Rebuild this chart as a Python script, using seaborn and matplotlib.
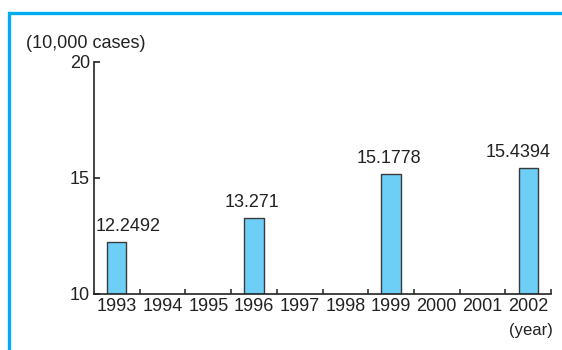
import matplotlib
matplotlib.use("Agg")
import matplotlib.pyplot as plt
import seaborn as sns
import pandas as pd
from matplotlib.lines import Line2D

years = ["1993", "1994", "1995", "1996", "1997", "1998", "1999", "2000", "2001", "2002"]
cases = [12.2492, None, None, 13.271, None, None, 15.1778, None, None, 15.4394]
value_labels = ["12.2492", "", "", "13.271", "", "", "15.1778", "", "", "15.4394"]
y_ticks = [10, 15, 20]

sns.set_style("white")
plt.rcParams["font.family"] = ["Liberation Sans", "DejaVu Sans"]
plt.rcParams["font.size"] = 13

BAR = "#6dcff6"
EDGE = "#3a3a3a"
FRAME = "#00aeef"
INK = "#222222"
FS = 13

df = pd.DataFrame({"year": years, "cases": [v if v is not None else float("nan") for v in cases]})

fig = plt.figure(figsize=(5.62, 3.5), dpi=100)
ax = fig.add_axes([94 / 562, 1 - 294 / 350, (551 - 94) / 562, (294 - 62) / 350])

sns.barplot(data=df, x="year", y="cases", order=years, color=BAR, width=0.42,
            edgecolor=EDGE, linewidth=1.0, saturation=1, ax=ax)

# bars start from the axis floor at 10
for patch in ax.patches:
    h = patch.get_height()
    if h == h:
        patch.set_y(10)
        patch.set_height(h - 10)

ax.set_ylim(10, 20)
ax.set_xlim(-0.5, len(years) - 0.5)
ax.set_yticks(y_ticks)
ax.set_yticklabels([str(t) for t in y_ticks], fontsize=FS, color=INK)
ax.set_xticks(range(len(years)))
ax.set_xticklabels(years, fontsize=FS, color=INK)
ax.tick_params(axis="x", length=0, pad=3)
ax.tick_params(axis="y", left=True, direction="in", length=4, width=1.2, color=INK, pad=3)
ax.set_xlabel("")
ax.set_ylabel("")

for s in ["top", "right"]:
    ax.spines[s].set_visible(False)
for s in ["left", "bottom"]:
    ax.spines[s].set_color(INK)
    ax.spines[s].set_linewidth(1.2)

# category boundary ticks along the x axis
for b in [i + 0.5 for i in range(len(years))]:
    ax.plot([b, b], [10, 10.2], color=INK, lw=1.1, clip_on=False, solid_capstyle="butt")

# value labels above bars
last = max(i for i, v in enumerate(cases) if v is not None)
first = min(i for i, v in enumerate(cases) if v is not None)
for i, (v, lab) in enumerate(zip(cases, value_labels)):
    if v is None:
        continue
    if i == first:
        x, ha = -0.5 + 0.04, "left"
    elif i == last:
        x, ha = len(years) - 0.5, "right"
    else:
        x, ha = i - 0.05, "center"
    ax.annotate(lab, (x, v), xytext=(0, 5), textcoords="offset points",
                ha=ha, va="bottom", fontsize=FS, color=INK)

fig.text(26 / 562, 1 - 44 / 350, "(10,000 cases)", fontsize=FS, color=INK, va="center", ha="left")
fig.text(553 / 562, 1 - 331 / 350, "(year)", fontsize=12, color=INK, va="center", ha="right")

# cyan frame on the top and left edges
fig.add_artist(Line2D([9 / 562, 9 / 562], [0, 1 - 12.5 / 350], transform=fig.transFigure,
                      color=FRAME, lw=2.4, solid_capstyle="projecting"))
fig.add_artist(Line2D([9 / 562, 1], [1 - 12.5 / 350, 1 - 12.5 / 350], transform=fig.transFigure,
                      color=FRAME, lw=2.4, solid_capstyle="butt"))

fig.savefig("out.png", dpi=100)
